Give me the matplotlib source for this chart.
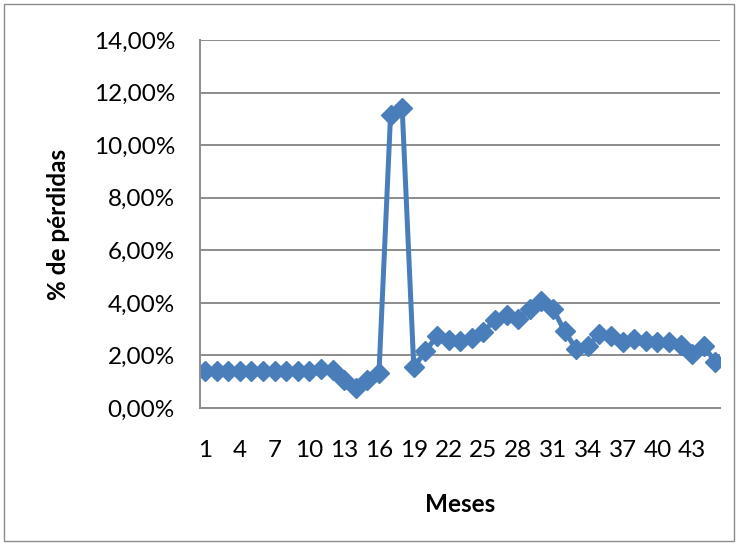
import matplotlib
matplotlib.use("Agg")
import matplotlib.pyplot as plt
from matplotlib.ticker import FuncFormatter, FixedLocator
from matplotlib.patches import Rectangle

# Monthly loss percentage
meses = list(range(1, 46))
perdidas = [
    1.42, 1.42, 1.42, 1.42, 1.42, 1.42, 1.42, 1.42, 1.42, 1.42,
    1.50, 1.44, 1.08, 0.76, 1.08, 1.33, 11.16, 11.41, 1.56, 2.15,
    2.75, 2.60, 2.55, 2.65, 2.90, 3.35, 3.55, 3.40, 3.78, 4.08,
    3.78, 2.92, 2.25, 2.35, 2.80, 2.75, 2.50, 2.62, 2.55, 2.52,
    2.52, 2.40, 2.05, 2.35, 1.75,
]
x_ticks = list(range(1, 44, 3))
y_ticks = [0, 2, 4, 6, 8, 10, 12, 14]

plt.rcParams["font.family"] = ["Lato", "DejaVu Sans"]

fig = plt.figure(figsize=(7.4, 5.45), dpi=100)
ax = fig.add_axes([200 / 740, 1 - 408 / 545, 520 / 740, 368 / 545])

blue = "#4A7EBB"
ax.plot(meses, perdidas, color=blue, lw=3.6, marker="D", markersize=10,
        markerfacecolor=blue, markeredgecolor=blue, solid_joinstyle="round")

ax.set_xlim(0.57, 45.4)
ax.set_ylim(0, 14)
ax.yaxis.set_major_locator(FixedLocator(y_ticks))
ax.xaxis.set_major_locator(FixedLocator(x_ticks))
ax.yaxis.set_major_formatter(
    FuncFormatter(lambda v, _: f"{v:.2f}%".replace(".", ",")))

grid_c = "#8C8C8C"
ax.grid(axis="y", color=grid_c, lw=1.4)
ax.set_axisbelow(True)
for s in ("top", "right"):
    ax.spines[s].set_visible(False)
for s in ("left", "bottom"):
    ax.spines[s].set_color(grid_c)
    ax.spines[s].set_linewidth(1.4)

ax.tick_params(axis="both", length=0, labelsize=17.5, colors="black")
ax.tick_params(axis="y", pad=18)
ax.tick_params(axis="x", pad=23)

ax.set_xlabel("Meses", fontsize=17.5, fontweight="bold", labelpad=23)
ax.set_ylabel("% de pérdidas", fontsize=17.5, fontweight="bold", labelpad=17)

# chart frame
fig.patches.append(Rectangle((4 / 740, 4 / 545), 730 / 740, 537 / 545,
                             transform=fig.transFigure, fill=False,
                             edgecolor="#8C8C8C", lw=1.0))

fig.savefig("out.png", dpi=100)
